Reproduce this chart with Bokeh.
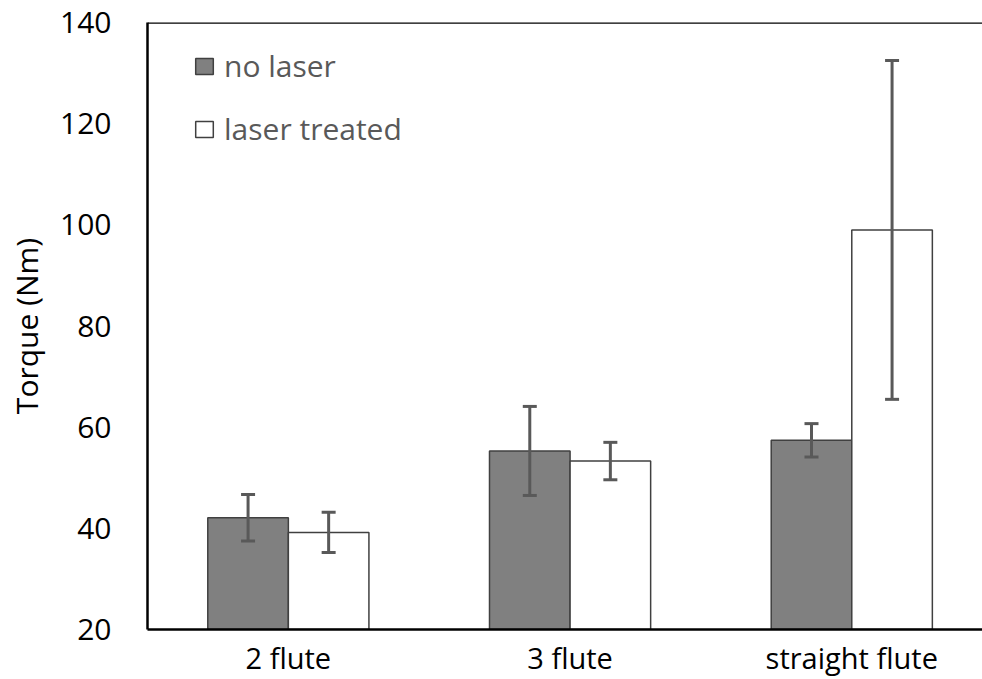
from bokeh.plotting import figure
from bokeh.models import (ColumnDataSource, Range1d, FixedTicker, Whisker, TeeHead,
                          Legend, LegendItem, Span)
from bokeh.embed import file_html
from bokeh.resources import INLINE

# ---- data ----
categories = ["2 flute", "3 flute", "straight flute"]
no_laser = [42.1, 55.3, 57.4]
no_laser_err = [4.6, 8.8, 3.3]
laser_treated = [39.2, 53.3, 99.0]
laser_treated_err = [4.0, 3.7, 33.5]
y_ticks = [20, 40, 60, 80, 100, 120, 140]

FONT = "Open Sans"
BAR_W = 0.286
Y_MIN, Y_MAX = 20, 140

pos = [i + 1 for i in range(len(categories))]

src_a = ColumnDataSource(dict(
    x=[p - BAR_W / 2 for p in pos], top=no_laser,
    upper=[v + e for v, e in zip(no_laser, no_laser_err)],
    lower=[v - e for v, e in zip(no_laser, no_laser_err)],
))
src_b = ColumnDataSource(dict(
    x=[p + BAR_W / 2 for p in pos], top=laser_treated,
    upper=[v + e for v, e in zip(laser_treated, laser_treated_err)],
    lower=[v - e for v, e in zip(laser_treated, laser_treated_err)],
))

p = figure(width=982, height=679, output_backend="svg", toolbar_location=None,
           x_range=Range1d(0.5, 3.464), y_range=Range1d(Y_MIN, Y_MAX),
           min_border_left=147, min_border_right=0, min_border_top=22,
           min_border_bottom=47)
p.outline_line_color = None
p.xgrid.visible = False
p.ygrid.visible = False
p.background_fill_color = "white"
p.border_fill_color = "white"

r_a = p.vbar(x="x", top="top", bottom=Y_MIN, width=BAR_W, source=src_a,
             fill_color="#808080", line_color="#404040", line_width=1.5)
r_b = p.vbar(x="x", top="top", bottom=Y_MIN, width=BAR_W, source=src_b,
             fill_color="white", line_color="#404040", line_width=1.5)

for s in (src_a, src_b):
    w = Whisker(base="x", upper="upper", lower="lower", source=s, level="overlay",
                line_color="#595959", line_width=3,
                upper_head=TeeHead(size=14, line_color="#595959", line_width=3),
                lower_head=TeeHead(size=14, line_color="#595959", line_width=3))
    p.add_layout(w)

p.add_layout(Span(location=Y_MAX, dimension="width", line_color="black", line_width=2.5))

# axes
p.xaxis.ticker = FixedTicker(ticks=pos)
p.xaxis.major_label_overrides = {pp: c for pp, c in zip(pos, categories)}
p.xaxis.major_tick_line_color = None
p.xaxis.minor_tick_line_color = None
p.xaxis.major_tick_out = 0
p.xaxis.major_label_standoff = 8
p.xaxis.axis_line_color = "black"
p.xaxis.axis_line_width = 2.5
p.xaxis.major_label_text_font = FONT
p.xaxis.major_label_text_font_size = "29px"
p.xaxis.major_label_text_color = "black"

p.yaxis.ticker = FixedTicker(ticks=y_ticks)
p.yaxis.major_tick_line_color = None
p.yaxis.minor_tick_line_color = None
p.yaxis.major_tick_out = 0
p.yaxis.major_label_standoff = 36
p.yaxis.axis_line_color = "black"
p.yaxis.axis_line_width = 2.5
p.yaxis.major_label_text_font = FONT
p.yaxis.major_label_text_font_size = "30px"
p.yaxis.major_label_text_color = "black"
p.yaxis.axis_label = "Torque (Nm)"
p.yaxis.axis_label_text_font = FONT
p.yaxis.axis_label_text_font_size = "30px"
p.yaxis.axis_label_text_font_style = "normal"
p.yaxis.axis_label_text_color = "black"
p.yaxis.axis_label_standoff = 10

legend = Legend(items=[LegendItem(label="no laser", renderers=[r_a]),
                       LegendItem(label="laser treated", renderers=[r_b])],
                location=(46, 480), orientation="vertical",
                glyph_width=22, glyph_height=20, label_standoff=9,
                spacing=22, padding=0, margin=0,
                label_text_font=FONT, label_text_font_size="30px",
                label_text_color="#595959",
                background_fill_alpha=0, border_line_color=None)
p.add_layout(legend)

open("out.html", "w").write(file_html(p, INLINE))
